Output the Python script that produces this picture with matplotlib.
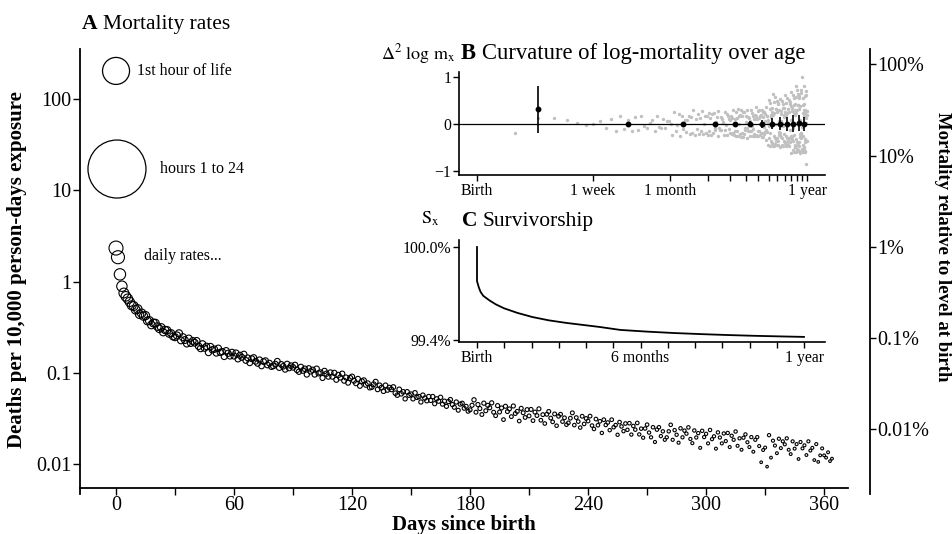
import numpy as np
import matplotlib.pyplot as plt

plt.rcParams['font.family'] = ['Liberation Serif', 'DejaVu Serif']
plt.rcParams['mathtext.fontset'] = 'stix'

# hourly rates on the first day (deaths per 10,000 person-days)
hour_labels = ['1st hour of life', 'hours 1 to 24']
hour_age = [1 / 48, 0.5]
hour_rate = [203.0, 17.1]

# daily rates, one value per day of the first year
daily_rate = [
    2.33, 1.85, 1.20, 0.89, 0.75, 0.69, 0.65, 0.60, 0.55, 0.54,
    0.492, 0.501, 0.438, 0.451, 0.418, 0.424, 0.371, 0.374, 0.335, 0.352,
    0.351, 0.322, 0.304, 0.315, 0.279, 0.295, 0.293, 0.269, 0.272, 0.251,
    0.246, 0.257, 0.271, 0.227, 0.246, 0.229, 0.209, 0.238, 0.212, 0.224,
    0.214, 0.224, 0.196, 0.185, 0.207, 0.187, 0.195, 0.167, 0.194, 0.179,
    0.182, 0.165, 0.186, 0.168, 0.171, 0.151, 0.175, 0.164, 0.153, 0.168,
    0.153, 0.165, 0.142, 0.156, 0.148, 0.160, 0.137, 0.146, 0.129, 0.143,
    0.147, 0.134, 0.127, 0.139, 0.119, 0.133, 0.136, 0.122, 0.128, 0.117,
    0.119, 0.125, 0.134, 0.114, 0.124, 0.118, 0.109, 0.125, 0.113, 0.120,
    0.115, 0.122, 0.108, 0.103, 0.116, 0.106, 0.111, 0.096, 0.112, 0.104,
    0.108, 0.096, 0.111, 0.099, 0.101, 0.088, 0.105, 0.098, 0.091, 0.101,
    0.091, 0.100, 0.084, 0.095, 0.089, 0.098, 0.082, 0.089, 0.078, 0.088,
    0.091, 0.082, 0.077, 0.086, 0.072, 0.081, 0.083, 0.074, 0.077, 0.069,
    0.070, 0.075, 0.080, 0.066, 0.073, 0.069, 0.063, 0.073, 0.065, 0.069,
    0.066, 0.070, 0.060, 0.057, 0.066, 0.059, 0.062, 0.052, 0.062, 0.057,
    0.0585, 0.052, 0.0605, 0.054, 0.055, 0.048, 0.057, 0.053, 0.0495, 0.055,
    0.050, 0.055, 0.046, 0.052, 0.049, 0.054, 0.0455, 0.049, 0.043, 0.0485,
    0.051, 0.045, 0.042, 0.048, 0.039, 0.0455, 0.0465, 0.041, 0.043, 0.038,
    0.0394, 0.0442, 0.0507, 0.0371, 0.0450, 0.0407, 0.0350, 0.0466, 0.0385, 0.0441,
    0.0415, 0.0470, 0.0371, 0.0340, 0.0438, 0.0373, 0.0413, 0.0308, 0.0431, 0.0377,
    0.0403, 0.0332, 0.0434, 0.0359, 0.0379, 0.0297, 0.0409, 0.0366, 0.0325, 0.0396,
    0.0338, 0.0398, 0.0300, 0.0372, 0.0341, 0.0404, 0.0303, 0.0349, 0.0279, 0.0352,
    0.0378, 0.0320, 0.0291, 0.0355, 0.0264, 0.0335, 0.0352, 0.0293, 0.0322, 0.0271,
    0.0284, 0.0319, 0.0365, 0.0268, 0.0324, 0.0293, 0.0252, 0.0335, 0.0276, 0.0317,
    0.0297, 0.0336, 0.0265, 0.0243, 0.0312, 0.0267, 0.0295, 0.0220, 0.0307, 0.0269,
    0.0286, 0.0236, 0.0307, 0.0254, 0.0268, 0.0210, 0.0289, 0.0259, 0.0230, 0.0279,
    0.0238, 0.0281, 0.0211, 0.0262, 0.0239, 0.0283, 0.0212, 0.0245, 0.0195, 0.0246,
    0.0271, 0.0222, 0.0197, 0.0254, 0.0175, 0.0239, 0.0254, 0.0203, 0.0229, 0.0185,
    0.0197, 0.0229, 0.0270, 0.0185, 0.0236, 0.0210, 0.0172, 0.0247, 0.0197, 0.0233,
    0.0216, 0.0253, 0.0189, 0.0170, 0.0234, 0.0196, 0.0219, 0.0151, 0.0232, 0.0198,
    0.0215, 0.0169, 0.0237, 0.0188, 0.0202, 0.0148, 0.0223, 0.0196, 0.0169, 0.0217,
    0.0179, 0.0220, 0.0154, 0.0205, 0.0185, 0.0228, 0.0159, 0.0192, 0.0144, 0.0195,
    0.0212, 0.0174, 0.0154, 0.0198, 0.0137, 0.0185, 0.0198, 0.0158, 0.0105, 0.0143,
    0.0152, 0.0094, 0.0208, 0.0118, 0.0181, 0.0160, 0.0132, 0.0190, 0.0150, 0.0178,
    0.0165, 0.0192, 0.0144, 0.0129, 0.0178, 0.0148, 0.0166, 0.0114, 0.0175, 0.0149,
    0.0161, 0.0126, 0.0178, 0.0141, 0.0151, 0.0111, 0.0166, 0.0106, 0.0125, 0.0149,
    0.0125, 0.0118, 0.0135, 0.0108, 0.0115,
]
level_at_birth = 240.0

# panel B: binned means of the second difference, +/- 2 SE
curv_day = [2, 14, 39, 70, 100, 131, 162, 193, 224, 253, 285, 317, 347]
curv_mean = [0.31, 0.01, 0.01, 0.01, 0.0, 0.01, 0.0, 0.01, 0.01, 0.0, 0.01, 0.02, 0.0]
curv_err = [0.50, 0.03, 0.04, 0.04, 0.05, 0.06, 0.08, 0.12, 0.14, 0.15, 0.19, 0.17, 0.15]

# panel C: survivorship (%) by age in days
surv_day = [0, 0, 1, 2, 4, 7, 14, 21, 30, 45, 62, 80, 100, 120, 137, 160,
            190, 220, 250, 280, 310, 340, 365]
surv_pct = [100.0, 99.78, 99.76, 99.74, 99.71, 99.685, 99.655, 99.63, 99.605,
            99.575, 99.548, 99.527, 99.51, 99.496, 99.484, 99.465,
            99.454, 99.445, 99.438, 99.432, 99.427, 99.423, 99.42]

rate = np.array(daily_rate)
days = np.arange(len(rate))

W, H = 952, 534
fig = plt.figure(figsize=(W / 100, H / 100), dpi=100)


def box(l, t, r, b):
    return [l / W, 1 - b / H, (r - l) / W, (b - t) / H]


def fy(y_px):
    return 1 - y_px / H


# ---------------- panel A ----------------
ax = fig.add_axes(box(80, 49, 848, 494))
ax.set_yscale('log')
val = lambda px: 10 ** (2 - (px - 99) / 91.3)
ax.set_ylim(val(494), val(49))
ax.set_xlim((80 - 116) / 1.967, (848 - 116) / 1.967)

r_px = 7 * (rate / rate[0]) ** 0.31
ax.scatter(days, rate, s=(2 * r_px * 0.72) ** 2, facecolors='none',
           edgecolors='black', linewidths=0.8, zorder=3)
ax.scatter(hour_age, hour_rate, s=[(2 * 13.5 * 0.72) ** 2, (2 * 29 * 0.72) ** 2],
           facecolors='none', edgecolors='black', linewidths=0.9, zorder=3)
ax.text(10.7, hour_rate[0], hour_labels[0], fontsize=11.5, va='center')
ax.text(22.4, hour_rate[1], hour_labels[1], fontsize=11.5, va='center')
ax.text(14.2, 1.9, 'daily rates...', fontsize=11.5, va='center')

ax.spines['top'].set_visible(False)
ax.spines['right'].set_visible(False)
ax.spines['bottom'].set_position(('data', val(488)))
for s in ('left', 'bottom'):
    ax.spines[s].set_linewidth(1.3)
ax.set_xticks(np.arange(0, 361, 30))
ax.set_xticklabels([str(d) if d % 60 == 0 else '' for d in range(0, 361, 30)])
ax.set_yticks([0.01, 0.1, 1, 10, 100])
ax.set_yticklabels(['0.01', '0.1', '1', '10', '100'])
ax.minorticks_off()
ax.tick_params(axis='both', labelsize=14.5, length=5, width=1, direction='out')
ax.tick_params(axis='y', pad=1)
ax.tick_params(axis='x', pad=1)

ax2 = ax.twinx()
ax2.set_yscale('log')
lo, hi = ax.get_ylim()
ax2.set_ylim(lo / level_at_birth * 100, hi / level_at_birth * 100)
for s in ('left', 'top', 'bottom'):
    ax2.spines[s].set_visible(False)
ax2.spines['right'].set_position(('axes', (870 - 80) / 768))
ax2.spines['right'].set_linewidth(1.3)
ax2.set_yticks([0.01, 0.1, 1, 10, 100])
ax2.set_yticklabels(['0.01%', '0.1%', '1%', '10%', '100%'])
ax2.minorticks_off()
ax2.tick_params(axis='y', labelsize=14.5, length=4, width=1, pad=1)

fig.text(17 / W, fy(270), 'Deaths per 10,000 person-days exposure', rotation=90,
         ha='center', va='center', fontsize=15, fontweight='bold')
fig.text(464 / W, fy(525), 'Days since birth', ha='center', va='center',
         fontsize=15, fontweight='bold')
fig.text(943 / W, fy(247), 'Mortality relative to level at birth', rotation=270,
         ha='center', va='center', fontsize=13.5, fontweight='bold')


def panel_title(x_px, y_px, letter, rest, size=15.5):
    fig.text(x_px / W, fy(y_px), letter, fontweight='bold', fontsize=size, va='baseline')
    fig.text((x_px + 21) / W, fy(y_px), rest, fontsize=size, va='baseline')


panel_title(82, 29, 'A', 'Mortality rates')
panel_title(461, 59, 'B', 'Curvature of log-mortality over age', size=16.3)
panel_title(462, 226, 'C', 'Survivorship')
fig.text(455 / W, fy(59), r'$\Delta^{2}\ \mathrm{log\ m_x}$', fontsize=13,
         ha='right', va='baseline')
fig.text(430 / W, fy(224), r'$\mathrm{S_x}$', fontsize=13, ha='center', va='baseline')

# ---------------- panel B ----------------
axB = fig.add_axes(box(459, 72, 825, 175))
axB.set_xscale('function', functions=(lambda x: np.log10(np.maximum(x + 1, 1e-9)),
                                      lambda y: 10 ** y - 1))
bx = lambda px: 10 ** ((px - 476.5) / 129) - 1
axB.set_xlim(bx(459), bx(825))
axB.set_ylim(-1.085, 1.106)

logr = np.log(rate)
delta2 = logr[2:] - 2 * logr[1:-1] + logr[:-2]
axB.scatter(days[1:-1], delta2, s=6, color='#c0c0c0', linewidths=0, zorder=2)
axB.axhline(0, color='black', lw=0.9, zorder=3)
axB.errorbar(curv_day, curv_mean, yerr=curv_err, fmt='o', ms=3.2, color='black',
             elinewidth=1.2, capsize=0, zorder=4)

month = 365.25 / 12
b_ticks = [0, 7] + [month * m for m in range(1, 13)]
b_labels = ['Birth', '1 week', '1 month'] + [''] * 10 + ['1 year']
axB.set_xticks(b_ticks)
axB.set_xticklabels(b_labels)
axB.set_yticks([-1, 0, 1])
axB.set_yticklabels(['\u22121', '0', '1'])
axB.minorticks_off()

# ---------------- panel C ----------------
axC = fig.add_axes(box(459, 240, 825, 342))
axC.set_xlim((459 - 477) / 0.8958, (825 - 477) / 0.8958)
axC.set_ylim(100 - (342 - 247) / 155, 100 + 7 / 155)
axC.plot(surv_day, surv_pct, color='black', lw=1.3)

axC.set_xticks([month * m for m in range(13)])
axC.set_xticklabels(['Birth'] + [''] * 5 + ['6 months'] + [''] * 5 + ['1 year'])
axC.set_yticks([99.4, 100])
axC.set_yticklabels(['99.4%', '100.0%'])

for a in (axB, axC):
    a.spines['top'].set_visible(False)
    a.spines['right'].set_visible(False)
    for s in ('left', 'bottom'):
        a.spines[s].set_linewidth(1.2)
    a.tick_params(axis='both', labelsize=11.3, length=4, width=1, pad=1.5)
    a.patch.set_alpha(0)

fig.savefig('out.png', dpi=100)
